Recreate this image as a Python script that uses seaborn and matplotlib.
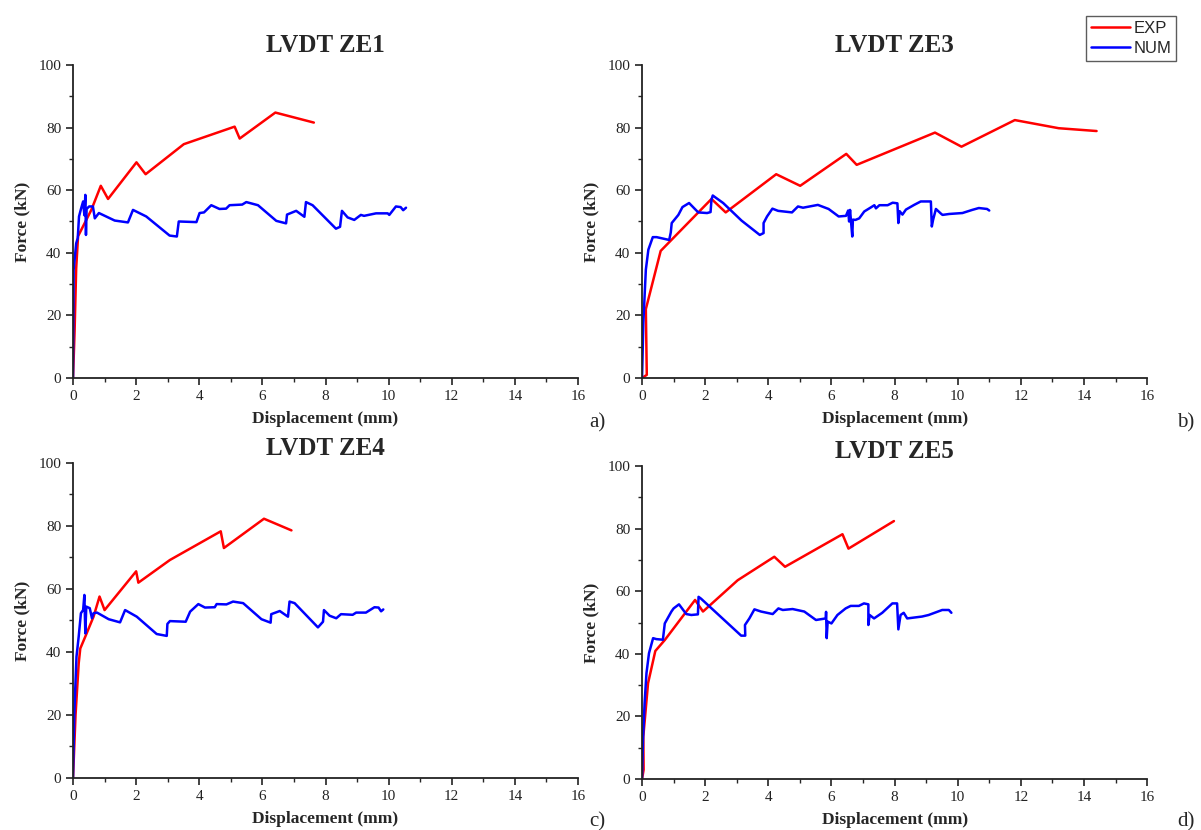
import numpy as np
import pandas as pd
import matplotlib
matplotlib.use("Agg")
import matplotlib.pyplot as plt
from matplotlib.ticker import MultipleLocator
from matplotlib.lines import Line2D
import seaborn as sns

# ---- ZE1 ----
ze1_exp_x = [0, 0.05, 0.10, 0.16, 0.58, 0.88, 1.11, 2.01, 2.30, 3.51, 5.12, 5.28, 6.41, 7.63]
ze1_exp_y = [0, 15, 35, 45.3, 53.7, 61.4, 57.2, 68.9, 65.1, 74.7, 80.3, 76.5, 84.8, 81.6]
ze1_num_x = [0, 0.02, 0.10, 0.15, 0.19, 0.26, 0.32, 0.36, 0.39, 0.41, 0.43, 0.51, 0.63, 0.69, 0.82,
             1.32, 1.74, 1.90, 2.32, 3.06, 3.29, 3.35, 3.91, 4.01, 4.15, 4.38, 4.64, 4.85, 4.96,
             5.36, 5.49, 5.86, 6.44, 6.75, 6.78, 7.07, 7.33, 7.38, 7.59, 8.33, 8.46, 8.52, 8.70,
             8.91, 9.12, 9.22, 9.60, 9.97, 10.02, 10.23, 10.38, 10.46, 10.55]
ze1_num_y = [0, 34.6, 43.0, 44.7, 51.6, 54.3, 56.4, 52.0, 58.5, 45.7, 54.0, 54.8, 54.8, 51.0, 52.7,
             50.3, 49.7, 53.7, 51.6, 45.5, 45.2, 50.0, 49.8, 52.7, 52.9, 55.2, 54.0, 54.1, 55.2,
             55.4, 56.2, 55.2, 50.2, 49.4, 52.2, 53.4, 51.5, 56.2, 55.2, 47.7, 48.3, 53.4, 51.3,
             50.5, 52.1, 51.8, 52.6, 52.6, 52.1, 54.8, 54.6, 53.6, 54.4]

# ---- ZE3 ----
ze3_exp_x = [0, 0.15, 0.12, 0.59, 2.20, 2.65, 4.25, 5.01, 6.47, 6.80, 9.28, 10.12, 11.81, 13.20, 14.40]
ze3_exp_y = [0, 1.0, 22.0, 40.6, 57.2, 52.9, 65.1, 61.4, 71.6, 68.1, 78.4, 73.9, 82.4, 79.8, 78.9]
ze3_num_x = [0, 0.04, 0.12, 0.20, 0.34, 0.46, 0.86, 0.91, 0.94, 1.15, 1.28, 1.49, 1.78, 2.06, 2.17,
             2.20, 2.24, 2.57, 3.15, 3.73, 3.85, 3.85, 3.96, 4.13, 4.31, 4.75, 4.94, 5.10, 5.57,
             5.91, 6.23, 6.46, 6.53, 6.56, 6.59, 6.66, 6.68, 6.76, 6.88, 7.04, 7.25, 7.36, 7.41,
             7.52, 7.78, 7.94, 8.09, 8.12, 8.16, 8.25, 8.36, 8.62, 8.83, 9.15, 9.18, 9.22, 9.31,
             9.47, 9.52, 9.73, 10.15, 10.46, 10.67, 10.93, 11.00]
ze3_num_y = [0, 17.5, 34.6, 41.0, 45.0, 45.0, 44.1, 46.5, 49.5, 52.1, 54.6, 55.9, 52.9, 52.7, 53.0,
             57.0, 58.3, 55.9, 50.3, 45.7, 46.3, 49.5, 51.6, 54.1, 53.4, 52.9, 54.8, 54.4, 55.3,
             54.0, 51.6, 51.8, 53.5, 50.0, 53.7, 45.2, 50.6, 50.5, 51.0, 53.2, 54.5, 55.2, 54.2,
             55.2, 55.2, 56.0, 55.8, 49.5, 53.3, 52.2, 53.8, 55.3, 56.4, 56.4, 48.4, 50.5, 54.0,
             52.5, 52.1, 52.4, 52.7, 53.7, 54.3, 54.0, 53.5]

# ---- ZE4 ----
ze4_exp_x = [0, 0.08, 0.18, 0.23, 0.39, 0.65, 0.84, 1.00, 2.00, 2.07, 3.07, 4.68, 4.78, 6.05, 6.92]
ze4_exp_y = [0, 20.0, 36.4, 41.1, 44.9, 51.2, 57.6, 53.3, 65.6, 62.0, 69.2, 78.3, 73.0, 82.3, 78.6]
ze4_num_x = [0, 0.04, 0.11, 0.18, 0.25, 0.32, 0.36, 0.39, 0.42, 0.53, 0.60, 0.65, 0.76, 1.13, 1.49,
             1.65, 2.02, 2.65, 2.97, 2.99, 3.07, 3.57, 3.71, 3.97, 4.18, 4.49, 4.55, 4.86, 5.07,
             5.39, 5.97, 6.26, 6.28, 6.55, 6.81, 6.86, 7.02, 7.76, 7.92, 7.95, 8.13, 8.34, 8.49,
             8.86, 8.97, 9.28, 9.55, 9.68, 9.76, 9.83]
ze4_num_y = [0, 20.5, 38.5, 44.9, 52.3, 53.3, 58.1, 45.9, 54.4, 53.9, 50.7, 52.3, 52.5, 50.4, 49.4,
             53.3, 51.2, 45.7, 45.1, 48.9, 49.8, 49.6, 52.8, 55.2, 54.1, 54.2, 55.2, 55.1, 56.0,
             55.5, 50.4, 49.3, 52.0, 53.0, 51.2, 56.0, 55.5, 47.8, 49.6, 53.3, 51.5, 50.7, 52.0,
             51.8, 52.5, 52.5, 54.2, 54.1, 52.9, 53.5]

# ---- ZE5 ----
ze5_exp_x = [0, 0.05, 0.04, 0.19, 0.42, 0.72, 1.68, 1.93, 3.03, 4.19, 4.53, 6.35, 6.54, 7.98]
ze5_exp_y = [0, 3.0, 13.6, 30.6, 40.9, 44.4, 57.2, 53.5, 63.5, 71.0, 67.8, 78.2, 73.6, 82.4]
ze5_num_x = [0, 0.03, 0.08, 0.14, 0.22, 0.35, 0.45, 0.66, 0.72, 0.93, 1.00, 1.17, 1.40, 1.56, 1.77,
             1.79, 1.87, 3.14, 3.27, 3.26, 3.40, 3.56, 3.77, 4.14, 4.32, 4.46, 4.77, 5.14, 5.51,
             5.82, 5.83, 5.85, 5.88, 6.00, 6.19, 6.45, 6.61, 6.87, 7.03, 7.17, 7.17, 7.21, 7.35,
             7.61, 7.93, 8.08, 8.12, 8.19, 8.29, 8.40, 8.87, 9.08, 9.51, 9.72, 9.80]
ze5_num_y = [0, 12.5, 24.2, 33.8, 40.2, 45.0, 44.7, 44.5, 49.7, 53.5, 54.5, 55.8, 52.7, 52.4, 52.6,
             58.2, 57.6, 45.8, 45.8, 49.2, 51.3, 54.2, 53.5, 52.7, 54.5, 54.0, 54.3, 53.5, 50.8,
             51.3, 53.4, 45.0, 50.3, 49.7, 52.4, 54.5, 55.3, 55.3, 56.1, 55.8, 49.2, 52.4, 51.3,
             53.1, 56.1, 56.1, 47.8, 52.4, 53.1, 51.3, 51.9, 52.4, 54.0, 54.0, 53.1]

titles = ["LVDT ZE1", "LVDT ZE3", "LVDT ZE4", "LVDT ZE5"]
panel_tags = ["a)", "b)", "c)", "d)"]
series_names = ["EXP", "NUM"]
x_ticks = [0, 2, 4, 6, 8, 10, 12, 14, 16]
y_ticks = [0, 20, 40, 60, 80, 100]

panels = [
    (ze1_exp_x, ze1_exp_y, ze1_num_x, ze1_num_y),
    (ze3_exp_x, ze3_exp_y, ze3_num_x, ze3_num_y),
    (ze4_exp_x, ze4_exp_y, ze4_num_x, ze4_num_y),
    (ze5_exp_x, ze5_exp_y, ze5_num_x, ze5_num_y),
]

sns.set_theme(style="ticks")
plt.rcParams["font.family"] = ["Liberation Serif", "DejaVu Serif"]
plt.rcParams["axes.linewidth"] = 1.3

palette = {"EXP": "#ff0000", "NUM": "#0000ff"}

fig = plt.figure(figsize=(12.01, 8.30), dpi=100)
fig.patch.set_facecolor("white")

# axes rectangles [left, bottom, width, height] in figure fractions
rects = [
    [0.0608, 0.5446, 0.4205, 0.3771],
    [0.5346, 0.5446, 0.4205, 0.3771],
    [0.0608, 0.0627, 0.4205, 0.3795],
    [0.5346, 0.0614, 0.4205, 0.3772],
]
title_pads = [9, 9, 6, 6]
tag_pos = [(0.497, 0.4904), (0.9875, 0.4904), (0.497, 0.0096), (0.9875, 0.0096)]

for i, (ex, ey, nx, ny) in enumerate(panels):
    ax = fig.add_axes(rects[i])
    df = pd.concat([
        pd.DataFrame({"Displacement": ex, "Force": ey, "Series": "EXP"}),
        pd.DataFrame({"Displacement": nx, "Force": ny, "Series": "NUM"}),
    ], ignore_index=True)
    sns.lineplot(data=df, x="Displacement", y="Force", hue="Series",
                 palette=palette, sort=False, estimator=None, linewidth=1.8,
                 legend=False, ax=ax)
    ax.set_xlim(0, 16)
    ax.set_ylim(0, 100)
    ax.set_xticks(x_ticks)
    ax.set_yticks(y_ticks)
    ax.xaxis.set_minor_locator(MultipleLocator(1))
    ax.yaxis.set_minor_locator(MultipleLocator(10))
    ax.tick_params(which="major", direction="out", length=5, width=1.2,
                   labelsize=11, colors="#222222")
    ax.tick_params(which="minor", direction="out", length=3, width=1.0)
    sns.despine(ax=ax)
    ax.spines["left"].set_color("#222222")
    ax.spines["bottom"].set_color("#222222")
    ax.set_xlabel("Displacement (mm)", fontsize=12.5, fontweight="bold", labelpad=6)
    ax.set_ylabel("Force (kN)", fontsize=12.5, fontweight="bold", labelpad=6)
    ax.set_title(titles[i], fontsize=18, fontweight="bold", pad=title_pads[i])
    fig.text(tag_pos[i][0], tag_pos[i][1], panel_tags[i], fontsize=15,
             ha="center", va="center")

handles = [Line2D([], [], color=palette[s], linewidth=1.8) for s in series_names]
leg = fig.legend(handles, series_names, loc="upper right",
                 bbox_to_anchor=(0.9792, 0.981), frameon=True, fancybox=False,
                 prop={"family": "Liberation Sans", "size": 12},
                 handlelength=2.3, handletextpad=0.2, borderpad=0.3,
                 labelspacing=0.3, borderaxespad=0.0)
leg.get_frame().set_edgecolor("#333333")
leg.get_frame().set_linewidth(1.0)

fig.savefig("out.png", dpi=100, facecolor="white")
